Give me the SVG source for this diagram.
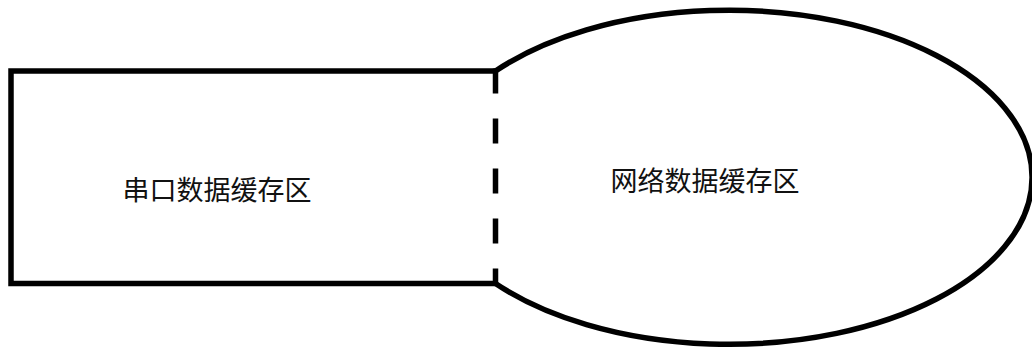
<svg xmlns="http://www.w3.org/2000/svg" width="1032" height="350" viewBox="0 0 1032 350">
<style>
.s{fill:none;stroke:#000;stroke-width:5.5}
.t{font-family:"Noto Sans CJK SC","Microsoft YaHei",sans-serif;font-size:27px;fill:#111;text-anchor:middle;dominant-baseline:central}
</style>
<rect width="1032" height="350" fill="#fff"/>
<g id="serial-buffer">
<path class="s" d="M495.5,71 H11 V283.5 H495.5"/>
<text class="t" x="217" y="188">串口数据缓存区</text>
</g>
<g id="network-buffer">
<path class="s" d="M495.5,71 A302.9,167 0 1 1 495.5,283.5"/>
<text class="t" x="705" y="179">网络数据缓存区</text>
</g>
<g id="connectors">
<line class="s" x1="495.5" y1="68.5" x2="495.5" y2="286" stroke-dasharray="25 25"/>
</g>
</svg>
